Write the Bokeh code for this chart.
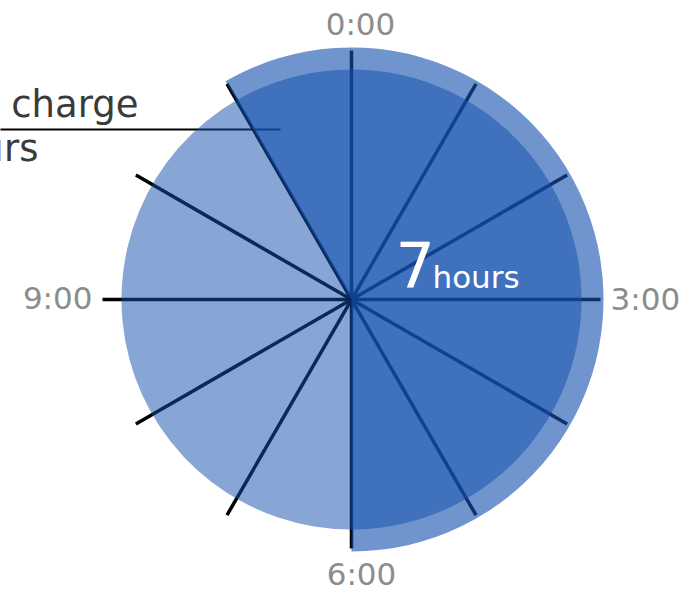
import math
from bokeh.plotting import figure
from bokeh.models import Range1d
from bokeh.core.properties import value
from bokeh.embed import file_html
from bokeh.resources import INLINE

# ---- data ----
hours_on_dial = 12
charge_start_hour = 11
charge_hours = 7
hour_labels = ["0:00", "3:00", "6:00", "9:00"]
label_hours = [0, 3, 6, 9]
callout_lines = ["Full charge", "7 hours"]
big_number = "7"
big_unit = "hours"

# ---- geometry (pixels) ----
R_PIE = 230
R_RING = 252
R_TICK = 249
W, H = 687, 589
CX, CY = 351, 299  # centre in canvas pixels from left/top

p = figure(width=W, height=H, output_backend="svg", toolbar_location=None,
           x_range=Range1d(-CX, W - CX), y_range=Range1d(-(H - CY), CY),
           min_border=0)
p.axis.visible = False
p.grid.visible = False
p.outline_line_color = None
p.background_fill_color = "white"
p.border_fill_color = "white"

def math_angle(h):
    return math.radians(90 - 360.0 * h / hours_on_dial)

# radial hour lines (drawn beneath translucent wedges)
hs = list(range(hours_on_dial))
x1 = [R_TICK * math.cos(math_angle(h)) for h in hs]
y1 = [R_TICK * math.sin(math_angle(h)) for h in hs]
p.segment(x0=[0] * len(hs), y0=[0] * len(hs), x1=x1, y1=y1,
          line_color="black", line_width=3.5)

# callout leader line
p.segment(x0=[-CX - 10], y0=[170], x1=[-71], y1=[170], line_color="black", line_width=2)

base = "#1450af"
start_a = math_angle(charge_start_hour)
end_a = math_angle(charge_start_hour + charge_hours)
# uncharged part
p.wedge(x=0, y=0, radius=R_PIE, start_angle=start_a, end_angle=end_a + 2 * math.pi,
        direction="anticlock", fill_color=base, fill_alpha=0.51, line_color=None)
# outer ring of charged part
p.wedge(x=0, y=0, radius=R_RING, start_angle=end_a, end_angle=start_a,
        direction="anticlock", fill_color=base, fill_alpha=0.61, line_color=None)
# charged part
p.wedge(x=0, y=0, radius=R_PIE, start_angle=end_a, end_angle=start_a,
        direction="anticlock", fill_color=base, fill_alpha=0.52, line_color=None)

font = value("DejaVu Sans")
lab_col = "#8c8c8c"
# 0:00 and 6:00
p.text(x=[9, 10], y=[276, -274], text=[hour_labels[0], hour_labels[2]],
       text_font=font, text_font_size=value("31px"), text_color=lab_col,
       text_align="center", text_baseline="alphabetic")
# 3:00
p.text(x=[259], y=[1], text=[hour_labels[1]], text_font=font,
       text_font_size=value("31px"), text_color=lab_col,
       text_align="left", text_baseline="alphabetic")
# 9:00
p.text(x=[-259], y=[2], text=[hour_labels[3]], text_font=font,
       text_font_size=value("31px"), text_color=lab_col,
       text_align="right", text_baseline="alphabetic")

# big number
p.text(x=[44], y=[36], text=[big_number], text_font=font,
       text_font_size=value("62px"), text_color="white",
       text_align="left", text_baseline="alphabetic")
p.text(x=[81], y=[23], text=[big_unit], text_font=font,
       text_font_size=value("31px"), text_color="white",
       text_align="left", text_baseline="alphabetic")

# callout text
p.text(x=[-213, -313], y=[195, 151], text=callout_lines, text_font=font,
       text_font_size=value("37px"), text_color="#3a3a3a",
       text_align="right", text_baseline="alphabetic")

open("out.html", "w").write(file_html(p, INLINE))
